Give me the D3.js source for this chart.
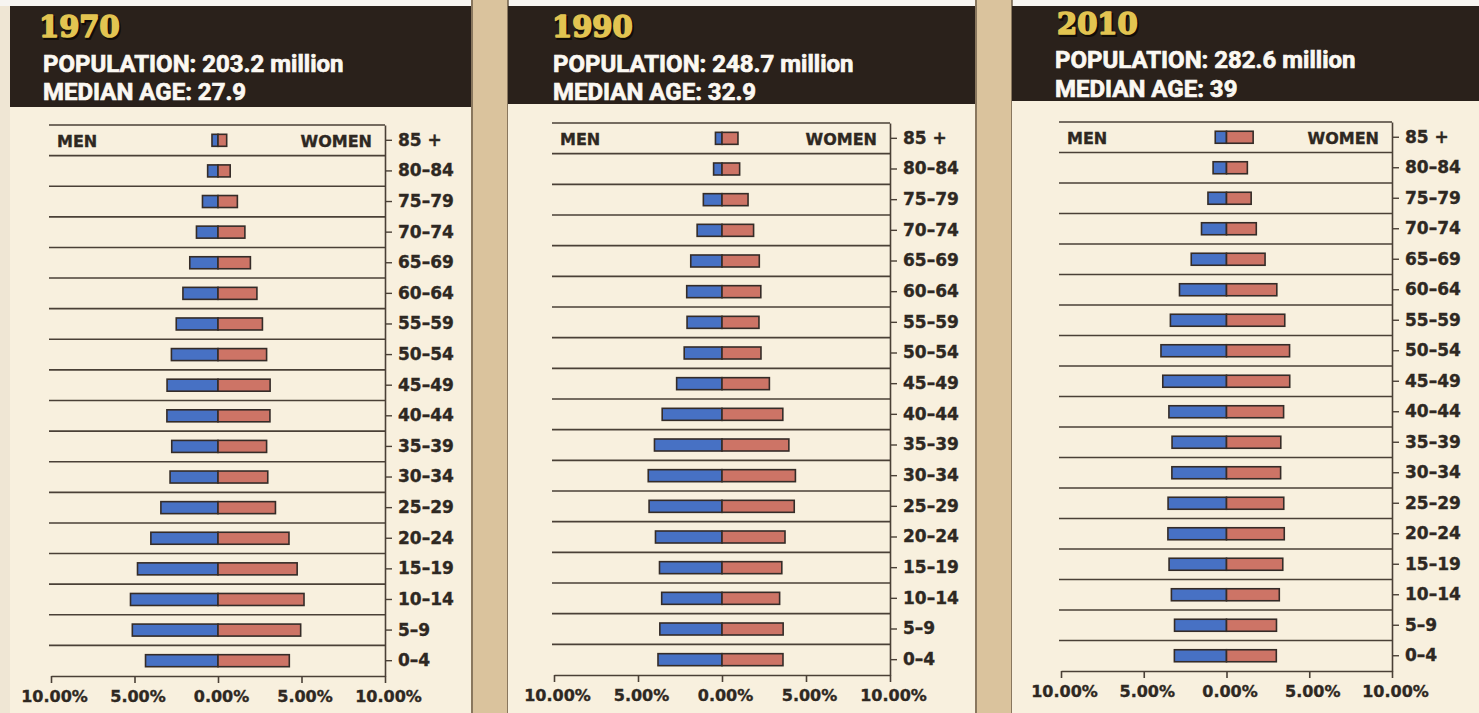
<!DOCTYPE html>
<html>
<head>
<meta charset="utf-8">
<script src="https://cdn.jsdelivr.net/npm/d3@7"></script>
<style>
  html, body { margin: 0; padding: 0; background: #f3efe8; }
  svg { display: block; }
</style>
</head>
<body>
<svg id="chart" width="1479" height="713"></svg>
<script>
// ---------- DATA ----------
const ageGroups = ["85 +","80–84","75–79","70–74","65–69","60–64","55–59","50–54","45–49",
                   "40–44","35–39","30–34","25–29","20–24","15–19","10–14","5–9","0–4"];
const years = ["1970","1990","2010"];
const populations = ["203.2","248.7","282.6"];
const medianAges = ["27.9","32.9","39"];
const tickValues = [-10, -5, 0, 5, 10];

const men1970   = [0.36,0.62,0.93,1.29,1.69,2.10,2.50,2.79,3.05,3.06,2.77,2.87,3.42,4.02,4.82,5.24,5.13,4.34];
const women1970 = [0.52,0.73,1.16,1.61,1.94,2.33,2.66,2.91,3.12,3.11,2.91,2.98,3.44,4.25,4.74,5.15,4.95,4.27];
const men1990   = [0.39,0.50,1.11,1.48,1.86,2.10,2.08,2.25,2.70,3.56,4.02,4.39,4.34,3.96,3.72,3.59,3.70,3.81];
const women1990 = [0.95,1.05,1.55,1.88,2.22,2.31,2.20,2.32,2.82,3.62,3.98,4.37,4.30,3.75,3.56,3.43,3.64,3.63];
const men2010   = [0.68,0.81,1.12,1.51,2.13,2.84,3.39,3.96,3.85,3.48,3.29,3.30,3.53,3.54,3.47,3.33,3.14,3.15];
const women2010 = [1.61,1.26,1.49,1.80,2.33,3.04,3.52,3.81,3.82,3.45,3.28,3.27,3.46,3.49,3.40,3.19,3.02,3.01];

const menSeries = [men1970, men1990, men2010];
const womenSeries = [women1970, women1990, women2010];

// ---------- LAYOUT ----------
const layout = [
  {x0:10,   x1:471,  hb:107, xL:51,   xR:385,  top:125, bottom:676, tx:39,   sx:43,   tyT:37, ty1:72, ty2:100},
  {x0:508,  x1:975,  hb:104, xL:554,  xR:890,  top:123, bottom:675, tx:552,  sx:553,  tyT:37, ty1:72, ty2:100},
  {x0:1012, x1:1479, hb:101, xL:1061, xR:1392, top:122, bottom:671, tx:1057, sx:1055, tyT:34, ty1:68, ty2:97}
];

const C = {
  cream: "#f8f0de",
  tan: "#dac39d",
  header: "#2a211b",
  gold: "#e2c451",
  ink: "#2e2822",
  line: "#4a4036",
  blue: "#4771c4",
  red: "#cd7466",
  barStroke: "#352c28"
};

const svg = d3.select("#chart");

// outer background
svg.append("rect").attr("x",0).attr("y",0).attr("width",1479).attr("height",713).attr("fill","#efe6d4");
svg.append("rect").attr("x",0).attr("y",0).attr("width",1479).attr("height",6).attr("fill","#f7f5f1");

// tan strips between panels
[[471,508],[975,1012]].forEach(([a,b]) => {
  svg.append("rect").attr("x",a).attr("y",0).attr("width",b-a).attr("height",713).attr("fill",C.tan);
  svg.append("line").attr("x1",a+1).attr("x2",a+1).attr("y1",0).attr("y2",713).attr("stroke","#6e5e4a").attr("stroke-width",1.5);
  svg.append("line").attr("x1",b).attr("x2",b).attr("y1",0).attr("y2",713).attr("stroke","#6e5e4a").attr("stroke-width",1.5);
});

layout.forEach((L, p) => {
  const g = svg.append("g");

  // panel backgrounds
  g.append("rect").attr("x",L.x0).attr("y",6).attr("width",L.x1-L.x0).attr("height",713-6).attr("fill",C.cream);
  g.append("rect").attr("x",L.x0).attr("y",6).attr("width",L.x1-L.x0).attr("height",L.hb-6).attr("fill",C.header);

  // header text
  g.append("text").attr("x",L.tx+1.5).attr("y",L.tyT+1.5)
    .attr("font-family","DejaVu Serif, serif").attr("font-weight",900).attr("font-size",29)
    .attr("fill","#120d08").attr("stroke","#120d08").attr("stroke-width",2)
    .text(years[p]);
  g.append("text").attr("x",L.tx).attr("y",L.tyT)
    .attr("font-family","DejaVu Serif, serif").attr("font-weight",900).attr("font-size",29)
    .attr("fill",C.gold).attr("stroke",C.gold).attr("stroke-width",1.6)
    .attr("stroke-linejoin","round")
    .text(years[p]);
  g.append("text").attr("x",L.sx).attr("y",L.ty1)
    .attr("font-family","Roboto, Liberation Sans, sans-serif").attr("font-weight","bold").attr("font-size",24)
    .attr("fill","#fbf8f2").attr("stroke","#fbf8f2").attr("stroke-width",0.7)
    .text("POPULATION: " + populations[p] + " million");
  g.append("text").attr("x",L.sx).attr("y",L.ty2)
    .attr("font-family","Roboto, Liberation Sans, sans-serif").attr("font-weight","bold").attr("font-size",24)
    .attr("fill","#fbf8f2").attr("stroke","#fbf8f2").attr("stroke-width",0.7)
    .text("MEDIAN AGE: " + medianAges[p]);

  // scales
  const x = d3.scaleLinear().domain([-10, 10]).range([L.xL, L.xR]);
  const y = d3.scaleBand().domain(ageGroups).range([L.top, L.bottom]).padding(0);
  const barH = 12;

  // row separator lines (top + between rows)
  const bounds = ageGroups.map(a => y(a));
  g.append("g").selectAll("line").data(bounds).join("line")
    .attr("x1", L.xL - 2).attr("x2", L.xR)
    .attr("y1", d => d).attr("y2", d => d)
    .attr("stroke", C.line).attr("stroke-width", 1.6);

  // bars
  const men = menSeries[p], women = womenSeries[p];
  g.append("g").selectAll("rect").data(ageGroups).join("rect")
    .attr("x", (a,i) => x(-men[i]))
    .attr("y", a => y(a) + y.bandwidth()/2 - barH/2)
    .attr("width", (a,i) => x(0) - x(-men[i]))
    .attr("height", barH)
    .attr("fill", C.blue).attr("stroke", C.barStroke).attr("stroke-width", 1.6);
  g.append("g").selectAll("rect").data(ageGroups).join("rect")
    .attr("x", x(0))
    .attr("y", a => y(a) + y.bandwidth()/2 - barH/2)
    .attr("width", (a,i) => x(women[i]) - x(0))
    .attr("height", barH)
    .attr("fill", C.red).attr("stroke", C.barStroke).attr("stroke-width", 1.6);

  // MEN / WOMEN labels
  const lab = sel => sel.attr("font-family","DejaVu Sans, sans-serif").attr("font-weight","bold")
    .attr("font-size",16).attr("fill",C.ink).attr("stroke",C.ink).attr("stroke-width",0.35);
  g.append("text").attr("x", L.xL + 6).attr("y", L.top + 22).call(lab).text("MEN");
  g.append("text").attr("x", L.xR - 13).attr("y", L.top + 22).attr("text-anchor","end").call(lab).text("WOMEN");

  // bottom axis
  const xAxis = d3.axisBottom(x).tickValues(tickValues)
    .tickFormat(d => Math.abs(d).toFixed(2) + "%").tickSize(7).tickSizeOuter(0).tickPadding(5);
  const gx = g.append("g").attr("transform", `translate(0,${L.bottom})`).call(xAxis);
  gx.select(".domain").attr("stroke", C.line).attr("stroke-width", 1.6);
  gx.selectAll(".tick line").attr("stroke", C.line).attr("stroke-width", 1.6);
  gx.selectAll(".tick text").attr("font-family","DejaVu Sans, sans-serif").attr("font-weight","bold")
    .attr("font-size",16).attr("fill",C.ink).attr("stroke",C.ink).attr("stroke-width",0.35)
    .attr("dx", 3).attr("dy", "0.85em");

  // right axis with age groups
  const yAxis = d3.axisRight(y).tickSize(7).tickSizeOuter(0).tickPadding(6);
  const gy = g.append("g").attr("transform", `translate(${L.xR},0)`).call(yAxis);
  gy.select(".domain").attr("stroke", C.line).attr("stroke-width", 1.6);
  gy.selectAll(".tick line").attr("stroke", C.line).attr("stroke-width", 1.4);
  gy.selectAll(".tick text").attr("font-family","DejaVu Sans, sans-serif").attr("font-weight","bold")
    .attr("font-size",17).attr("fill",C.ink).attr("stroke",C.ink).attr("stroke-width",0.35);
});
</script>
</body>
</html>
